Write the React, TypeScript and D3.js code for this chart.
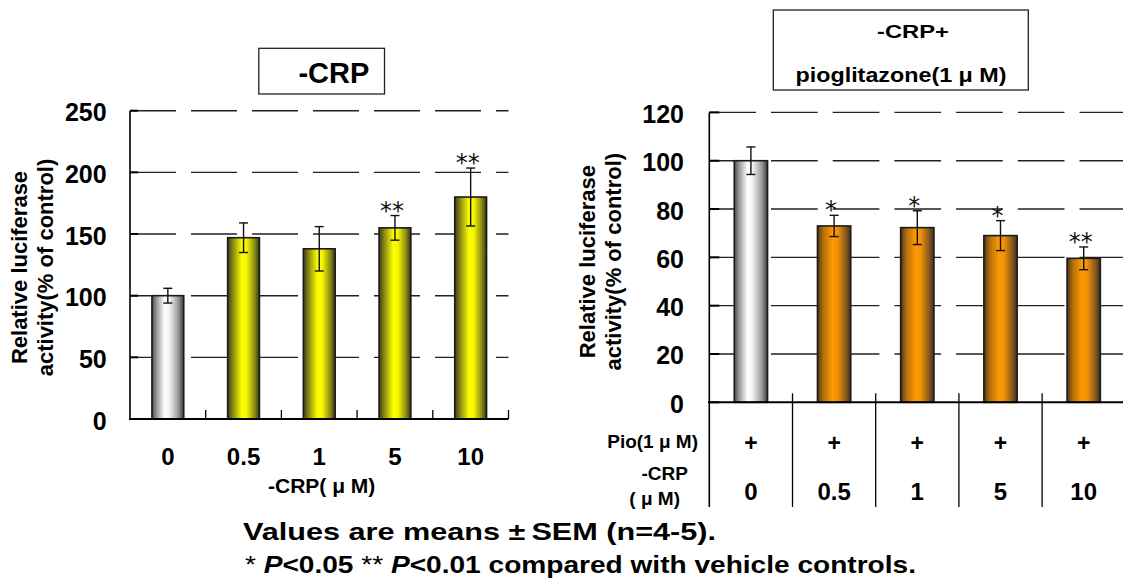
import React from "react";
import * as d3 from "d3";

// CRP dose (uM) on both panels
const doses = ["0", "0.5", "1", "5", "10"];

// left panel: -CRP alone
const crpMean = [100, 147, 138, 155, 180];
const crpSem = [6, 12, 18, 10, 23.5];
const crpSig = ["", "", "", "**", "**"];
const crpTicks = [0, 50, 100, 150, 200, 250];

// right panel: -CRP + pioglitazone (1 uM)
const pioMean = [100, 73, 72.3, 69, 59.6];
const pioSem = [5.7, 4.4, 7, 6.2, 4.7];
const pioSig = ["", "*", "*", "*", "**"];
const pioTicks = [0, 20, 40, 60, 80, 100, 120];
const pioRow = ["+", "+", "+", "+", "+"];

const FONT = "'Liberation Sans', Arial, sans-serif";

function Bars(props: {
  x: d3.ScaleBand<string>;
  y: d3.ScaleLinear<number, number>;
  means: number[];
  sems: number[];
  sigs: string[];
  fill: string;
}) {
  const { x, y, means, sems, sigs, fill } = props;
  const y0 = y(0);
  return (
    <g>
      {doses.map((d, i) => {
        const bx = x(d)!;
        const cx = bx + x.bandwidth() / 2;
        const top = y(means[i] + sems[i]);
        const bot = y(means[i] - sems[i]);
        return (
          <g key={d}>
            <rect
              x={bx}
              y={y(means[i])}
              width={x.bandwidth()}
              height={y0 - y(means[i])}
              fill={i === 0 ? "url(#gGray)" : fill}
              stroke="#1a1a1a"
              strokeWidth={1.6}
            />
            <g stroke="#111" strokeWidth={1.4}>
              <line x1={cx} x2={cx} y1={top} y2={bot} />
              <line x1={cx - 4.5} x2={cx + 4.5} y1={top} y2={top} />
              <line x1={cx - 4.5} x2={cx + 4.5} y1={bot} y2={bot} />
            </g>
            {sigs[i] && (
              <text
                x={cx - 3}
                y={top + 3}
                textAnchor="middle"
                fontFamily="'DejaVu Sans', sans-serif"
                fontSize={24}
                fill="#111"
              >
                {sigs[i]}
              </text>
            )}
          </g>
        );
      })}
    </g>
  );
}

function Frame(props: {
  x: d3.ScaleBand<string>;
  y: d3.ScaleLinear<number, number>;
  ticks: number[];
  labelX: number;
  tickLen: number;
  dash: string;
}) {
  const { x, y, ticks, labelX, tickLen, dash } = props;
  const [x0, x1] = x.range();
  return (
    <g>
      {ticks.slice(1).map((t) => (
        <line
          key={"g" + t}
          x1={x0}
          x2={x1}
          y1={y(t)}
          y2={y(t)}
          stroke="#222"
          strokeWidth={1.4}
          strokeDasharray={dash}
        />
      ))}
      {ticks.map((t) => (
        <g key={"t" + t}>
          <line x1={x0} x2={x0 + tickLen} y1={y(t)} y2={y(t)} stroke="#000" strokeWidth={2} />
          <text
            x={labelX}
            y={y(t) + 10.5}
            textAnchor="end"
            fontFamily={FONT}
            fontWeight="bold"
            fontSize={25}
          >
            {t}
          </text>
        </g>
      ))}
    </g>
  );
}

export default function App() {
  // left panel scales
  const xL = d3.scaleBand<string>().domain(doses).range([130, 508.5]).paddingInner(0.58).paddingOuter(0.29);
  const yL = d3.scaleLinear().domain([0, 250]).range([419, 110.7]);
  // right panel scales
  const xR = d3.scaleBand<string>().domain(doses).range([709.3, 1125.3]).paddingInner(0.6).paddingOuter(0.3);
  const yR = d3.scaleLinear().domain([0, 120]).range([402.3, 112.4]);

  const stepL = xL.step();
  const stepR = xR.step();
  const tableBottom = 507;

  return (
    <svg width={1123} height={581} style={{ position: "absolute", left: 0, top: 0, background: "#fff" }}>
      <defs>
        <linearGradient id="gGray" x1="0" x2="1" y1="0" y2="0">
          <stop offset="0" stopColor="#4a4a4a" />
          <stop offset="0.15" stopColor="#9a9a9a" />
          <stop offset="0.4" stopColor="#ffffff" />
          <stop offset="0.55" stopColor="#f2f2f2" />
          <stop offset="0.82" stopColor="#9c9c9c" />
          <stop offset="1" stopColor="#3c3c3c" />
        </linearGradient>
        <linearGradient id="gYellow" x1="0" x2="1" y1="0" y2="0">
          <stop offset="0" stopColor="#3c3c1c" />
          <stop offset="0.18" stopColor="#8e8e14" />
          <stop offset="0.45" stopColor="#ffff00" />
          <stop offset="0.6" stopColor="#f4f402" />
          <stop offset="0.85" stopColor="#8a8a14" />
          <stop offset="1" stopColor="#33331c" />
        </linearGradient>
        <linearGradient id="gOrange" x1="0" x2="1" y1="0" y2="0">
          <stop offset="0" stopColor="#4a3418" />
          <stop offset="0.18" stopColor="#b4700c" />
          <stop offset="0.45" stopColor="#ff9900" />
          <stop offset="0.6" stopColor="#f39208" />
          <stop offset="0.85" stopColor="#8a5a1c" />
          <stop offset="1" stopColor="#3a3028" />
        </linearGradient>
      </defs>

      {/* ---------- left panel ---------- */}
      <rect x={258.8} y={48.3} width={125.7} height={45.7} fill="#fff" stroke="#222" strokeWidth={1.3} />
      <text x={298.4} y={83.3} fontFamily={FONT} fontWeight="bold" fontSize={29}>-CRP</text>

      <Frame x={xL} y={yL} ticks={crpTicks} labelX={106.7} tickLen={8} dash="46 15" />
      <Bars x={xL} y={yL} means={crpMean} sems={crpSem} sigs={crpSig} fill="url(#gYellow)" />
      <g stroke="#000">
        <line x1={130} x2={130} y1={yL(250)} y2={yL(0)} strokeWidth={1.6} />
        <line x1={129} x2={508.5} y1={yL(0)} y2={yL(0)} strokeWidth={2} />
        {doses.map((d, i) => (
          <line key={d} x1={130 + (i + 1) * stepL} x2={130 + (i + 1) * stepL} y1={yL(0) - 9} y2={yL(0)} strokeWidth={1.3} />
        ))}
      </g>
      {doses.map((d) => (
        <text
          key={d}
          x={xL(d)! + xL.bandwidth() / 2}
          y={465}
          textAnchor="middle"
          fontFamily={FONT}
          fontWeight="bold"
          fontSize={24}
        >
          {d}
        </text>
      ))}
      <text x={321.7} y={493} textAnchor="middle" fontFamily={FONT} fontWeight="bold" fontSize={21}>
        -CRP( μ M)
      </text>
      <g fontFamily={FONT} fontWeight="bold" fontSize={22} textAnchor="middle">
        <text transform="translate(27,267.5) rotate(-90)">Relative luciferase</text>
        <text transform="translate(53,267.5) rotate(-90)">activity(% of control)</text>
      </g>

      {/* ---------- right panel ---------- */}
      <rect x={773.3} y={10} width={255} height={80} fill="#fff" stroke="#222" strokeWidth={1.3} />
      <text x={913} y={37.5} textAnchor="middle" fontFamily={FONT} fontWeight="bold" fontSize={19} textLength={72} lengthAdjust="spacingAndGlyphs">
        -CRP+
      </text>
      <text x={901} y={81.5} textAnchor="middle" fontFamily={FONT} fontWeight="bold" fontSize={21} textLength={211} lengthAdjust="spacingAndGlyphs">
        pioglitazone(1 μ M)
      </text>

      <Frame x={xR} y={yR} ticks={pioTicks} labelX={684} tickLen={10} dash="46.7 15" />
      <Bars x={xR} y={yR} means={pioMean} sems={pioSem} sigs={pioSig} fill="url(#gOrange)" />
      <g stroke="#000">
        <line x1={709.3} x2={709.3} y1={yR(120)} y2={tableBottom} strokeWidth={1.6} />
        <line x1={708} x2={1125} y1={yR(0)} y2={yR(0)} strokeWidth={2} />
        {doses.map((d, i) => (
          <line
            key={d}
            x1={709.3 + (i + 1) * stepR}
            x2={709.3 + (i + 1) * stepR}
            y1={yR(0) - 9}
            y2={tableBottom}
            strokeWidth={1.3}
          />
        ))}
      </g>
      <g fontFamily={FONT} fontWeight="bold" textAnchor="middle">
        {doses.map((d, i) => (
          <g key={d}>
            <text x={xR(d)! + xR.bandwidth() / 2} y={451} fontSize={23}>{pioRow[i]}</text>
            <text x={xR(d)! + xR.bandwidth() / 2} y={500} fontSize={24}>{d}</text>
          </g>
        ))}
      </g>
      <g fontFamily={FONT} fontWeight="bold" fontSize={19} textAnchor="end">
        <text x={698} y={448}>Pio(1 μ M)</text>
        <text x={688} y={480}>-CRP</text>
        <text x={680} y={505}>( μ M)</text>
      </g>
      <g fontFamily={FONT} fontWeight="bold" fontSize={22} textAnchor="middle">
        <text transform="translate(595,261.7) rotate(-90)">Relative luciferase</text>
        <text transform="translate(621,261.7) rotate(-90)">activity(% of control)</text>
      </g>

      {/* ---------- footnote ---------- */}
      <text x={243} y={540} fontFamily={FONT} fontWeight="bold" fontSize={24} textLength={473} lengthAdjust="spacingAndGlyphs">
        Values are means ±{"\u2009"}SEM (n=4-5).
      </text>
      <text x={245} y={573} fontFamily={FONT} fontWeight="bold" fontSize={24} textLength={671} lengthAdjust="spacingAndGlyphs">
        <tspan fontWeight="normal">{"*  "}</tspan>
        <tspan fontStyle="italic">P</tspan>
        <tspan>{"<0.05 "}</tspan>
        <tspan fontWeight="normal">**</tspan>
        <tspan fontStyle="italic">{" P"}</tspan>
        <tspan>{"<0.01 compared with vehicle controls."}</tspan>
      </text>
    </svg>
  );
}
